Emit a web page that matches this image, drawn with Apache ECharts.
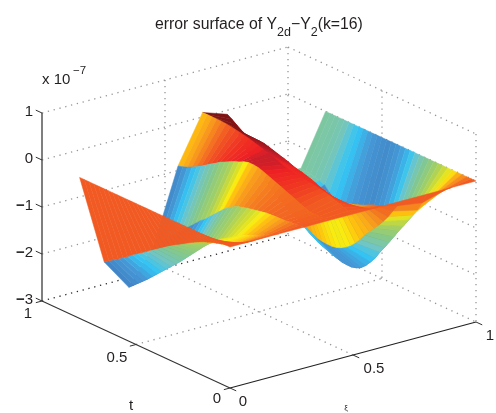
<!DOCTYPE html>
<html>
<head>
<meta charset="utf-8">
<style>html,body{margin:0;padding:0;background:#fff}#c{width:496px;height:413px}</style>
<script src="https://cdn.jsdelivr.net/npm/echarts@6/dist/echarts.min.js"></script>
</head>
<body>
<div id="c"></div>
<script>
// tick labels
var zTicks = [1, 0, -1, -2, -3];
var zTickLabels = ['{d|1}', '{d|0}', '{m|\u2212}{d|1}', '{m|\u2212}{d|2}', '{m|\u2212}{d|3}'];
var tTicks = [0, 0.5, 1];
var tTickLabels = ['0', '0.5', '1'];
var xTicks = [0, 0.5, 1];
var xTickLabels = ['0', '0.5', '1'];
// grid of the surface
var xiValues = [0, 0.1, 0.2, 0.3, 0.4, 0.5, 0.6, 0.62, 0.7, 0.8, 0.9, 1];
var tValues = [0,.025,.05,.075,.1,.125,.15,.175,.2,.225,.25,.275,.3,.325,.35,.375,.4,.425,.45,.475,.5,.525,.55,.575,.6,.625,.65,.675,.7,.725,.75,.775,.8];
// error (x 10^-7) along t, one list per xi
var err000 = [0,0,0,0,0,0,0,0,0,0,0,0,0,0,0,0,0,0,0,0,0,0,0,0,0,0,0,0,0,0,0,0,0];
var err010 = [0,-.07,-.14,-.2,-.27,-.33,-.37,-.4,-.43,-.46,-.5,-.54,-.59,-.64,-.7,-.76,-.82,-.88,-.94,-1.01,-1.08,-1.15,-1.22,-1.3,-1.37,-1.44,-1.51,-1.59,-1.66,-1.73,-1.8,-1.87,-1.94];
var err020 = [0,-.05,-.11,-.16,-.21,-.26,-.31,-.36,-.41,-.47,-.53,-.6,-.67,-.75,-.83,-.91,-1.01,-1.12,-1.23,-1.34,-1.45,-1.56,-1.66,-1.76,-1.86,-1.96,-2.06,-2.16,-2.26,-2.35,-2.44,-2.53,-2.62];
var err030 = [0,-.01,-.02,-.03,-.04,-.05,-.05,-.06,-.07,-.09,-.11,-.13,-.15,-.18,-.21,-.26,-.32,-.4,-.5,-.6,-.7,-.8,-.88,-.98,-1.08,-1.18,-1.28,-1.38,-1.48,-1.58,-1.69,-1.8,-1.9];
var err040 = [0,0,0,0,0,.04,.08,.13,.17,.21,.25,.29,.33,.37,.41,.44,.45,.45,.42,.37,.33,.28,.23,.18,.11,.05,-.02,-.09,-.15,-.2,-.25,-.29,-.32];
var err050 = [0,.02,.05,.09,.12,.16,.19,.21,.23,.25,.26,.27,.28,.3,.32,.35,.39,.43,.46,.49,.52,.55,.58,.6,.62,.64,.66,.67,.68,.68,.68,.68,.68];
var err060 = [0,-.06,-.11,-.15,-.18,-.21,-.24,-.25,-.25,-.23,-.2,-.17,-.14,-.1,-.06,-.03,0,.02,.05,.09,.12,.15,.18,.21,.24,.25,.25,.24,.25,.3,.37,.44,.5];
var err062 = [0,-.04,-.07,-.12,-.17,-.21,-.25,-.28,-.31,-.34,-.38,-.4,-.42,-.4,-.38,-.36,-.33,-.31,-.29,-.24,-.21,-.17,-.14,-.1,-.07,-.05,-.04,-.03,0,.06,.14,.21,.28];
var err070 = [0,-.15,-.31,-.48,-.62,-.75,-.86,-.98,-1.1,-1.24,-1.36,-1.46,-1.54,-1.6,-1.64,-1.66,-1.66,-1.65,-1.63,-1.58,-1.52,-1.46,-1.41,-1.36,-1.3,-1.24,-1.18,-1.1,-1,-.9,-.8,-.7,-.6];
var err080 = [0,-.23,-.43,-.58,-.73,-.91,-1.06,-1.23,-1.39,-1.55,-1.7,-1.87,-2,-2.12,-2.21,-2.26,-2.29,-2.29,-2.28,-2.25,-2.22,-2.18,-2.14,-2.1,-2.04,-1.98,-1.75,-1.4,-1.15,-1.12,-1.1,-1.08,-1.05];
var err090 = [0,-.08,-.17,-.26,-.37,-.47,-.57,-.68,-.8,-.92,-1.03,-1.15,-1.28,-1.41,-1.53,-1.62,-1.7,-1.76,-1.8,-1.78,-1.74,-1.68,-1.62,-1.54,-1.47,-1.4,-1.3,-1.19,-1.15,-1.12,-1.1,-1.08,-1.07];
var err100 = [0,0,0,0,0,0,0,0,0,0,0,0,0,0,0,0,0,0,0,0,0,0,0,0,0,0,0,0,0,0,0,0,0];
var errColumns = [err000, err010, err020, err030, err040, err050, err060, err062, err070, err080, err090, err100];

// colour scale of the surface
var colorStops = [[0,'#34509f'],[.05,'#3a5ba9'],[.2,'#3f7cc0'],[.3,'#4599d6'],[.36,'#33c5f4'],[.42,'#6fc5c8'],[.5,'#85c88a'],[.58,'#a8d05f'],[.64,'#d5de2c'],[.675,'#f9ec0f'],[.7,'#ffc20e'],[.73,'#f9a01b'],[.76,'#f4791f'],[.7958,'#f15a22'],[.86,'#f03423'],[.91,'#ed2024'],[.94,'#be1e2d'],[1,'#7f1416']];
var zMin = -2.65, zMax = 0.68;
function hex(c){return [parseInt(c.substr(1,2),16),parseInt(c.substr(3,2),16),parseInt(c.substr(5,2),16)];}
function colorOf(z){
  var f = (z - zMin) / (zMax - zMin);
  f = Math.max(0, Math.min(1, f));
  for (var k = 1; k < colorStops.length; k++) {
    if (f <= colorStops[k][0]) {
      var a = colorStops[k-1], b = colorStops[k], u = (f - a[0]) / (b[0] - a[0]);
      var ca = hex(a[1]), cb = hex(b[1]);
      return 'rgb(' + Math.round(ca[0]+(cb[0]-ca[0])*u) + ',' + Math.round(ca[1]+(cb[1]-ca[1])*u) + ',' + Math.round(ca[2]+(cb[2]-ca[2])*u) + ')';
    }
  }
  return colorStops[colorStops.length-1][1];
}

// view of the 3-D box: where the origin goes and what one unit of each axis does on the page plane
var view = {ox: 230, oy: 388, xx: 246, xy: -66, tx: -188, ty: -87, zy: -47, zBase: -3};
function project(x, t, z){
  return [view.ox + x*view.xx + t*view.tx, view.oy + x*view.xy + t*view.ty + (z - view.zBase)*view.zy];
}

// surface cells, far to near, so nearer cells paint over farther ones
var cells = [];
for (var i = xiValues.length - 2; i >= 0; i--) {
  for (var j = tValues.length - 2; j >= 0; j--) {
    cells.push([xiValues[i], xiValues[i+1], tValues[j], tValues[j+1],
      errColumns[i][j], errColumns[i+1][j], errColumns[i+1][j+1], errColumns[i][j+1]]);
  }
}

// box lines: [x0,t0,z0,x1,t1,z1,kind]
var boxLines = [];
zTicks.forEach(function(z){
  boxLines.push([0,1,z,1,1,z, z === -3 ? 1 : 0]);
  boxLines.push([1,1,z,1,0,z,0]);
});
boxLines.push([0.5,1,1,0.5,1,-3,0]);
boxLines.push([1,1,1,1,1,-3,0]);
boxLines.push([1,0.5,1,1,0.5,-3,0]);
boxLines.push([1,0,1,1,0,-3,0]);
boxLines.push([0,0.5,-3,1,0.5,-3,0]);
boxLines.push([0.5,0,-3,0.5,1,-3,0]);

// axis lines and ticks
var axisLines = [[0,1,1,0,1,-3,1.5,'#555'],[0,1,-3,0,0,-3,1.1,'#333'],[0,0,-3,1,0,-3,1.2,'#222']];
var tickLen = 0.033;
zTicks.forEach(function(z){ axisLines.push([0,1,z,0,1+tickLen,z,1,'#333']); });
tTicks.forEach(function(t){ axisLines.push([0,t,-3,-0.025,t,-3,1,'#333']); });
xTicks.forEach(function(x){ axisLines.push([x,0,-3,x,-tickLen,-3,1,'#333']); });

var FONT = '"Liberation Sans", Arial, sans-serif';
var INK = '#231f20';
// text: [x,t,z,dx,dy,string,size,align]
var texts = [];
tTicks.forEach(function(t,k){ texts.push([0,t,-3,[-13,-19,-14][k],[11,13,13][k],tTickLabels[k],15,'center']); });
xTicks.forEach(function(x,k){ texts.push([x,0,-3,[13,21,14][k],[14,14,14][k],xTickLabels[k],15,'center']); });
var annot = [
  [131,406,'t',15,'center'],
  [346,408,'\u03be',8,'center'],
  [42,80,'x 10',15,'left'],
  [73,71,'\u22127',11.5,'left']
];

var chart = echarts.init(document.getElementById('c'), null, {renderer:'canvas'});
chart.setOption({
  animation: false,
  backgroundColor: '#fff',
  title: {
    text: '{t|error surface of Y}{s|2d}{t|\u2212Y}{s|2}{t|(k=16)}',
    left: 155, top: 17, padding: 0,
    textStyle: {rich: {
      t: {fontFamily: FONT, fontSize: 15.8, color: INK, fontWeight: 'normal', lineHeight: 24, verticalAlign:'top'},
      s: {fontFamily: FONT, fontSize: 12.5, color: INK, fontWeight: 'normal', lineHeight: 24, padding:[9,0,0,0], verticalAlign:'top'}
    }}
  },
  grid: {left: 0, top: 0, width: 496, height: 413},
  xAxis: {type: 'value', min: 0, max: 496, show: false},
  yAxis: {type: 'value', min: 0, max: 413, inverse: true, show: false},
  series: [
    { type: 'custom', coordinateSystem: 'cartesian2d', clip: false, silent: true, z: 1,
      data: boxLines,
      encode: {x: 0, y: 1},
      renderItem: function(p, api){
        var a = api.coord(project(api.value(0), api.value(1), api.value(2)));
        var b = api.coord(project(api.value(3), api.value(4), api.value(5)));
        var dark = api.value(6) === 1;
        return {type: 'line', shape: {x1:a[0], y1:a[1], x2:b[0], y2:b[1]},
          style: {stroke: dark ? '#2a2a2a' : '#969696', lineWidth: 1.3, lineDash: [1.3, 4.7], fill: null}};
      }
    },
    { type: 'custom', coordinateSystem: 'cartesian2d', clip: false, silent: true, z: 2, progressive: 0,
      data: cells,
      encode: {x: 0, y: 2},
      renderItem: function(p, api){
        var x0 = api.value(0), x1 = api.value(1), t0 = api.value(2), t1 = api.value(3);
        var pts = [
          api.coord(project(x0, t0, api.value(4))),
          api.coord(project(x1, t0, api.value(5))),
          api.coord(project(x1, t1, api.value(6))),
          api.coord(project(x0, t1, api.value(7)))
        ];
        var c = colorOf(api.value(4));
        return {type: 'polygon', shape: {points: pts}, style: {fill: c, stroke: c, lineWidth: 0.5}};
      }
    },
    { type: 'custom', coordinateSystem: 'cartesian2d', clip: false, silent: true, z: 3,
      data: axisLines.map(function(r, k){ return [r[0], r[1], r[2], r[3], r[4], r[5], k]; }),
      encode: {x: 0, y: 1},
      renderItem: function(p, api){
        var a = api.coord(project(api.value(0), api.value(1), api.value(2)));
        var b = api.coord(project(api.value(3), api.value(4), api.value(5)));
        var r = axisLines[api.value(6)];
        return {type: 'line', shape: {x1:a[0], y1:a[1], x2:b[0], y2:b[1]},
          style: {stroke: r[7], lineWidth: r[6], fill: null}};
      }
    },
    { type: 'custom', coordinateSystem: 'cartesian2d', clip: false, silent: true, z: 4,
      data: texts.map(function(r, k){ return [r[0], r[1], r[2], k]; }),
      encode: {x: 0, y: 1},
      renderItem: function(p, api){
        var r = texts[api.value(3)];
        var a = api.coord(project(r[0], r[1], r[2]));
        return {type: 'text', style: {x: a[0]+r[3], y: a[1]+r[4], text: r[5],
          font: r[6] + 'px ' + FONT, fill: INK, textAlign: r[7], textVerticalAlign: 'middle'}};
      }
    },
    { type: 'custom', coordinateSystem: 'cartesian2d', clip: false, silent: true, z: 4,
      data: zTicks.map(function(z, k){ return [z, k]; }),
      encode: {x: 0, y: 0},
      renderItem: function(p, api){
        var a = api.coord(project(0, 1, api.value(0)));
        return {type: 'text', style: {x: a[0]-9, y: a[1]-1.5, text: zTickLabels[api.value(1)],
          textAlign: 'right', textVerticalAlign: 'middle',
          rich: {d: {font: '15px ' + FONT, fill: INK}, m: {font: 'bold 15px ' + FONT, fill: INK}}}};
      }
    },
    { type: 'custom', coordinateSystem: 'cartesian2d', clip: false, silent: true, z: 4,
      data: annot.map(function(r, k){ return [r[0], r[1], k]; }),
      encode: {x: 0, y: 1},
      renderItem: function(p, api){
        var r = annot[api.value(2)];
        var a = api.coord([r[0], r[1]]);
        return {type: 'text', style: {x: a[0], y: a[1], text: r[2],
          font: r[3] + 'px ' + FONT, fill: INK, textAlign: r[4], textVerticalAlign: 'middle'}};
      }
    }
  ]
});
</script>
</body>
</html>
